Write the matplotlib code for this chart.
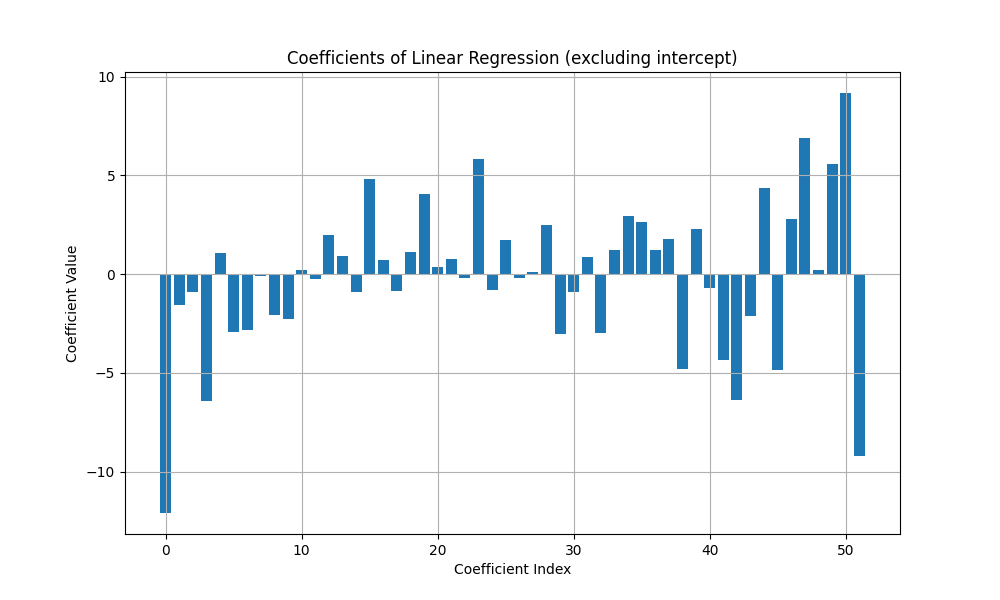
import matplotlib
matplotlib.use("Agg")
import matplotlib.pyplot as plt
import numpy as np

coefficients = [
    -12.09, -1.55, -0.90, -6.42, 1.06, -2.92, -2.82, -0.08, -2.06, -2.26,
    0.20, -0.24, 1.98, 0.91, -0.90, 4.81, 0.71, -0.84, 1.11, 4.05,
    0.35, 0.76, -0.19, 5.83, -0.79, 1.72, -0.19, 0.10, 2.48, -3.02,
    -0.90, 0.86, -2.97, 1.22, 2.94, 2.64, 1.22, 1.77, -4.80, 2.28,
    -0.69, -4.34, -6.37, -2.11, 4.36, -4.85, 2.79, 6.89, 0.20, 5.57,
    9.17, -9.21,
]
indices = np.arange(len(coefficients))

fig, ax = plt.subplots(figsize=(10, 6), dpi=100)
ax.bar(indices, coefficients)
ax.set_title("Coefficients of Linear Regression (excluding intercept)")
ax.set_xlabel("Coefficient Index")
ax.set_ylabel("Coefficient Value")
ax.grid(True)
fig.savefig("out.png")
